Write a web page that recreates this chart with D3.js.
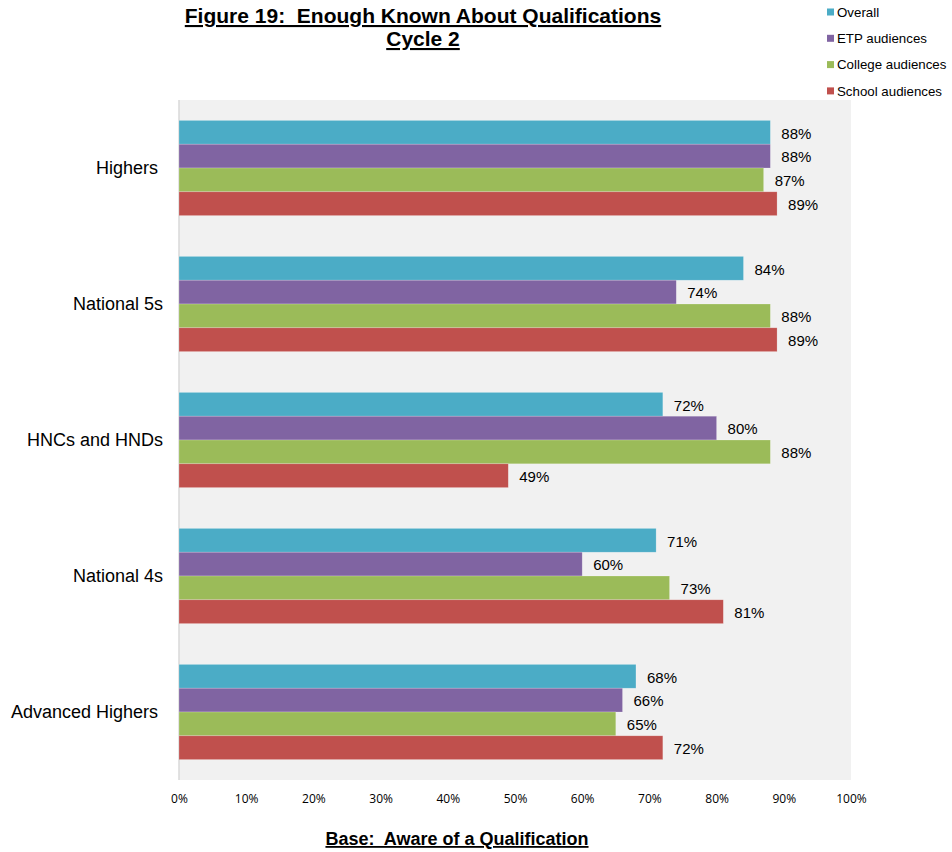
<!DOCTYPE html>
<html>
<head>
<meta charset="utf-8">
<script src="https://cdn.jsdelivr.net/npm/d3@7"></script>
<style>
  body { margin: 0; background: #fff; }
  svg { display: block; font-family: "Liberation Sans", Arial, sans-serif; }
</style>
</head>
<body>
<svg id="chart" width="952" height="852"></svg>
<script>
// qualification groups, top to bottom
var categories = ["Highers", "National 5s", "HNCs and HNDs", "National 4s", "Advanced Highers"];
var seriesNames = ["Overall", "ETP audiences", "College audiences", "School audiences"];
var seriesColors = ["#4bacc6", "#8064a2", "#9bbb59", "#c0504d"];

// percentages per series, same order as categories
var overall = [88, 84, 72, 71, 68];
var etp = [88, 74, 80, 60, 66];
var college = [87, 88, 88, 73, 65];
var school = [89, 89, 49, 81, 72];

var tickValues = [0, 10, 20, 30, 40, 50, 60, 70, 80, 90, 100];

var seriesValues = [overall, etp, college, school];

var svg = d3.select("#chart");
var plot = { left: 179, right: 851, top: 100, bottom: 780 };

var x = d3.scaleLinear().domain([0, 100]).range([plot.left, plot.right]);
var y = d3.scaleBand().domain(categories).range([plot.top, plot.bottom])
  .paddingInner(0.3).paddingOuter(0.15);
var ySub = d3.scaleBand().domain(seriesNames).range([0, y.bandwidth()]);

// plot background
svg.append("rect")
  .attr("x", plot.left).attr("y", plot.top)
  .attr("width", plot.right - plot.left).attr("height", plot.bottom - plot.top)
  .attr("fill", "#f1f1f1");
svg.append("line")
  .attr("x1", plot.left).attr("x2", plot.left)
  .attr("y1", plot.top).attr("y2", plot.bottom)
  .attr("stroke", "#d9d9d9").attr("stroke-width", 1.5);

// bars
var groups = svg.selectAll("g.cat")
  .data(categories)
  .enter().append("g")
  .attr("class", "cat")
  .attr("transform", function(d) { return "translate(0," + y(d) + ")"; });

// the first and last labels sit a little further from the axis in the original
var labelGap = [21, 16, 16, 16, 21];

groups.each(function(cat, ci) {
  var g = d3.select(this);
  seriesNames.forEach(function(s, si) {
    var v = seriesValues[si][ci];
    g.append("rect")
      .attr("x", x(0))
      .attr("y", ySub(s))
      .attr("width", x(v) - x(0))
      .attr("height", ySub.bandwidth())
      .attr("fill", seriesColors[si])
      .attr("stroke", "#ffffff").attr("stroke-opacity", 0.35).attr("stroke-width", 0.6);
    g.append("text")
      .attr("x", x(v) + 11)
      .attr("y", ySub(s) + ySub.bandwidth() / 2)
      .attr("dy", "0.42em")
      .attr("font-size", 15)
      .attr("fill", "#000")
      .text(v + "%");
  });
  g.append("text")
    .attr("x", plot.left - labelGap[ci])
    .attr("y", y.bandwidth() / 2)
    .attr("dy", "0.36em")
    .attr("text-anchor", "end")
    .attr("font-size", 18)
    .text(cat);
});

// x axis labels
var xAxis = d3.axisBottom(x).tickValues(tickValues)
  .tickFormat(function(d) { return d + "%"; })
  .tickSize(0).tickPadding(14);
var ax = svg.append("g")
  .attr("transform", "translate(0," + plot.bottom + ")")
  .call(xAxis);
ax.select(".domain").remove();
ax.selectAll("text")
  .attr("font-family", "'Open Sans', 'Liberation Sans', sans-serif")
  .attr("font-size", 12).attr("fill", "#000");

// title
var title = ["Figure 19:  Enough Known About Qualifications", "Cycle 2"];
title.forEach(function(t, i) {
  svg.append("text")
    .attr("x", 423).attr("y", 23 + i * 23)
    .attr("text-anchor", "middle")
    .attr("font-weight", "bold").attr("font-size", 21)
    .attr("text-decoration", "underline")
    .style("white-space", "pre")
    .text(t);
});

// footer
svg.append("text")
  .attr("x", 457).attr("y", 845)
  .attr("text-anchor", "middle")
  .attr("font-weight", "bold").attr("font-size", 18)
  .attr("text-decoration", "underline")
  .style("white-space", "pre")
  .text("Base:  Aware of a Qualification");

// legend
var legend = svg.selectAll("g.leg")
  .data(seriesNames)
  .enter().append("g")
  .attr("class", "leg")
  .attr("transform", function(d, i) { return "translate(827," + (12 + i * 26.3) + ")"; });
legend.append("rect")
  .attr("x", 0).attr("y", -3.5).attr("width", 7).attr("height", 7)
  .attr("fill", function(d, i) { return seriesColors[i]; });
legend.append("text")
  .attr("x", 10).attr("dy", "0.36em")
  .attr("font-size", 13.3)
  .text(function(d) { return d; });
</script>
</body>
</html>
